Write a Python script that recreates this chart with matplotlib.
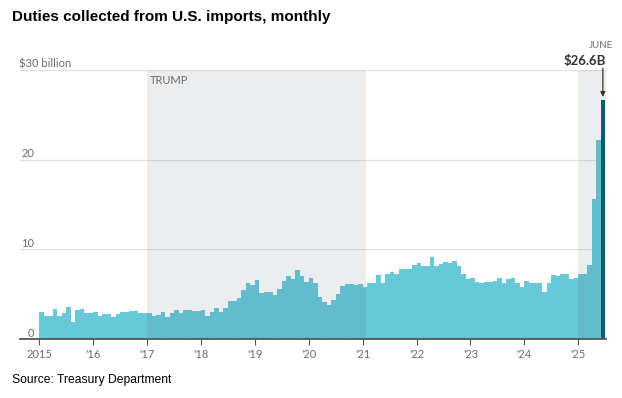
import numpy as np
import matplotlib
matplotlib.use('Agg')
import matplotlib.pyplot as plt

# monthly customs duties, $ billion (Jan 2015 .. Jun 2025)
y2015 = [3.0, 2.6, 2.6, 3.4, 2.6, 2.9, 3.6, 1.9, 3.2, 3.4, 2.9, 2.9]
y2016 = [3.0, 2.6, 2.8, 2.8, 2.4, 2.75, 3.05, 3.0, 3.1, 3.1, 2.9, 2.9]
y2017 = [2.9, 2.6, 2.7, 3.0, 2.4, 2.9, 3.2, 2.9, 3.2, 3.2, 3.1, 3.1]
y2018 = [3.2, 2.6, 3.05, 3.5, 3.0, 3.5, 4.2, 4.2, 4.6, 5.5, 6.3, 6.0]
y2019 = [6.6, 5.1, 5.2, 5.2, 4.9, 5.6, 6.5, 7.0, 6.7, 7.7, 7.0, 6.4]
y2020 = [6.8, 6.3, 4.7, 4.1, 3.8, 4.4, 5.0, 5.9, 6.1, 6.1, 6.0, 6.1]
y2021 = [5.8, 6.3, 6.3, 7.1, 6.3, 7.2, 7.5, 7.3, 7.8, 7.8, 7.8, 8.2]
y2022 = [8.5, 8.1, 8.1, 9.2, 8.1, 8.4, 8.55, 8.5, 8.7, 8.1, 7.2, 6.7]
y2023 = [6.8, 6.4, 6.2, 6.4, 6.4, 6.5, 6.8, 6.3, 6.65, 6.8, 6.3, 5.8]
y2024 = [6.5, 6.3, 6.2, 6.3, 5.2, 6.3, 7.1, 7.0, 7.2, 7.3, 6.7, 6.8]
y2025 = [7.3, 7.2, 8.2, 15.6, 22.2, 26.6]

duties = np.array(y2015 + y2016 + y2017 + y2018 + y2019 + y2020 +
                  y2021 + y2022 + y2023 + y2024 + y2025)
tick_labels = ['2015', "'16", "'17", "'18", "'19", "'20", "'21", "'22", "'23", "'24", "'25"]
ytick_vals = [0, 10, 20]

BAR = '#66C8D8'
LAST = '#005F6B'
GRAY = '#6b6b6b'
COND = ['Lato', 'DejaVu Sans']

W, H = 622, 398
fig = plt.figure(figsize=(W / 100, H / 100), dpi=100)
fig.patch.set_facecolor('white')

def px(x, y):
    return x / W, 1 - y / H

# axes: x from 20px to 606px, y from 70px (30bn) to 339px (0)
ax = fig.add_axes([20 / W, (H - 339) / H, 586 / W, 269 / H])
n = len(duties)
months = np.arange(n)
colors = [BAR] * (n - 1) + [LAST]
ax.bar(months, duties, width=1.0, align='edge', color=colors, linewidth=0, zorder=2)

x0 = -4.3
ax.set_xlim(x0, 126.2)
ax.set_ylim(0, 30)

# Trump terms, drawn over the bars
ax.axvspan(24, 72.7, color='#4a5562', alpha=0.10, linewidth=0, zorder=3)
ax.axvspan(120, 126.2, color='#4a5562', alpha=0.10, linewidth=0, zorder=3)

for v in [10, 20, 30]:
    ax.axhline(v, color='#e2e2e2', linewidth=0.9, zorder=1)

for s in ['top', 'right', 'left']:
    ax.spines[s].set_visible(False)
ax.spines['bottom'].set_color('#555555')
ax.spines['bottom'].set_linewidth(1.3)
ax.spines['bottom'].set_zorder(4)

ax.set_yticks([])
ax.set_xticks(np.arange(0, 121, 12))
ax.set_xticklabels(tick_labels, fontsize=8, color=GRAY, family=COND)
ax.tick_params(axis='x', length=4, width=0.8, color='#555555', pad=3)

# y labels sit just above the grid lines
for v in ytick_vals:
    ax.text(x0 + 3.1, v + 0.05, str(v), ha='right', va='bottom',
            fontsize=8, color=GRAY, family=COND)
ax.text(x0 - 0.2, 30.05, '$30 billion', ha='left', va='bottom',
        fontsize=8, color=GRAY, family=COND)

ax.text(24.6, 29.4, 'TRUMP', ha='left', va='top', fontsize=8, color=GRAY,
        family=COND, zorder=5)

# June callout
ax.annotate('', xy=(n - 0.5, duties[-1] + 0.4), xytext=(n - 0.5, 30.2),
            arrowprops=dict(arrowstyle='-|>', color='#333333', lw=0.9,
                            mutation_scale=7, shrinkA=0, shrinkB=0),
            annotation_clip=False)
ax.text(n + 0.1, 30.35, '$26.6B', ha='right', va='bottom', fontsize=9.5,
        fontweight='bold', color='#333333', family=['Lato', 'DejaVu Sans'], clip_on=False)
ax.text(n - 0.9, 32.2, 'JUNE', ha='center', va='bottom', fontsize=7,
        color=GRAY, family=COND, clip_on=False)

fig.text(*px(12, 17), 'Duties collected from U.S. imports, monthly', ha='left', va='center',
         fontsize=11, fontweight='bold', family=['Liberation Sans', 'DejaVu Sans'], color='black')
fig.text(*px(12, 380), 'Source: Treasury Department', ha='left', va='center',
         fontsize=8.7, family=['Liberation Sans', 'DejaVu Sans'], color='black')

fig.savefig('out.png', dpi=100, facecolor='white')
